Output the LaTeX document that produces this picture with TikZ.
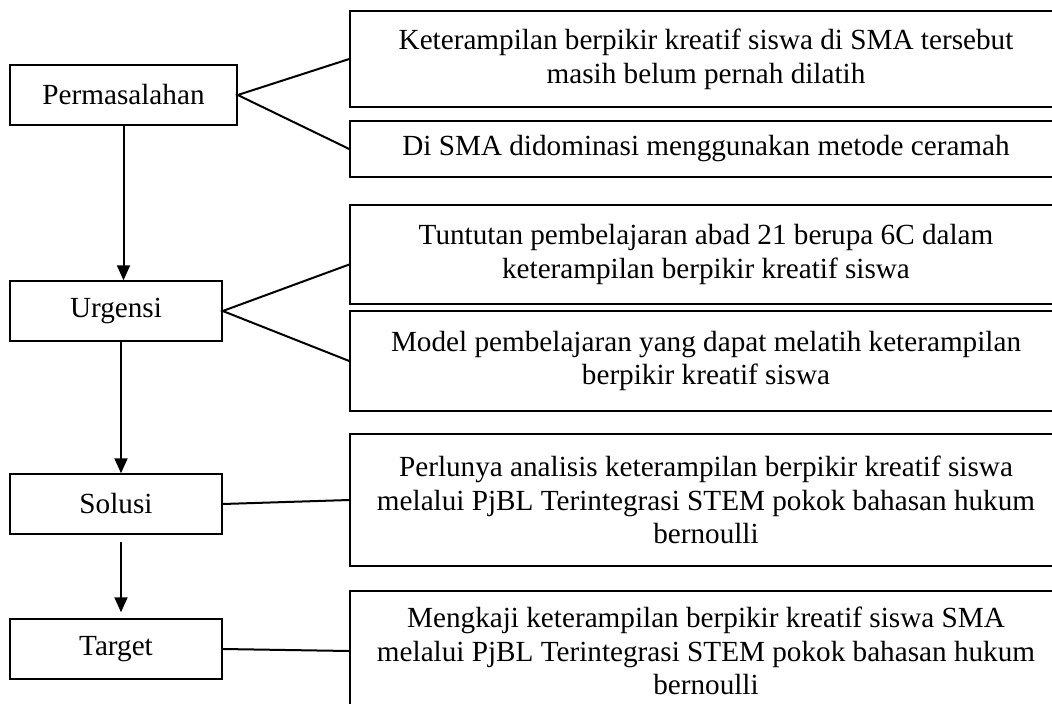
\documentclass[tikz,border=0pt]{standalone}
\usepackage{fontspec}
\setmainfont{Liberation Serif}
\usetikzlibrary{arrows.meta}

\begin{document}
\begin{tikzpicture}[x=1pt, y=-1pt,
		lbox/.style={draw, line width=1.5pt, minimum width=212pt, minimum height=60pt, font=\fontsize{29.2}{33.7}\selectfont},
		rbox/.style={draw, line width=1.5pt, minimum width=712pt, align=center, font=\fontsize{29.2}{33.7}\selectfont},
		link/.style={line width=2pt},
		arr/.style={line width=2pt, -{Triangle[width=13pt, length=15pt]}}]
		%%%%% START %%%%%
		
		\clip (0, 0) rectangle (1052, 704);
		
		\node[lbox, minimum width=227pt] (perm) at (123.5, 95) {Permasalahan};
		\node[lbox] (urg) at (116, 311) {Urgensi};
		\node[lbox] (sol) at (116, 504) {Solusi};
		\node[lbox] (tgt) at (116, 649) {Target};
		
		\node[rbox, minimum height=96pt] (p1) at (706, 59) {Keterampilan berpikir kreatif siswa di SMA tersebut\\ masih belum pernah dilatih};
		\node[rbox, minimum height=56pt] (p2) at (706, 149) {Di SMA didominasi menggunakan metode ceramah};
		
		\node[rbox, minimum height=99pt] (u1) at (706, 254.5) {Tuntutan pembelajaran abad 21 berupa 6C dalam\\ keterampilan berpikir kreatif siswa};
		\node[rbox, minimum height=100pt] (u2) at (706, 361) {Model pembelajaran yang dapat melatih keterampilan\\ berpikir kreatif siswa};
		
		\node[rbox, minimum height=132pt] (s1) at (706, 500) {Perlunya analisis keterampilan berpikir kreatif siswa\\ melalui PjBL Terintegrasi STEM pokok bahasan hukum\\ bernoulli};
		\node[rbox, minimum height=120pt] (t1) at (706, 651) {Mengkaji keterampilan berpikir kreatif siswa SMA\\ melalui PjBL Terintegrasi STEM pokok bahasan hukum\\ bernoulli};
		
		\draw[link] (p1.west) -- (perm.east) -- (p2.west);
		\draw[link] ([yshift=-10pt]u1.west) -- (urg.east) -- (u2.west);
		\draw[link] (sol.east) -- (s1.west);
		\draw[link] (tgt.east) -- (t1.west);
		
		\draw[arr] (perm.south) -- (perm.south |- urg.north);
		\draw[arr] ([xshift=5pt]urg.south) -- ([xshift=5pt]urg.south |- sol.north);
		\draw[arr, shorten <=7pt, shorten >=6pt] ([xshift=5pt]sol.south) -- ([xshift=5pt]sol.south |- tgt.north);
		
		%%%%% END %%%%%
	\end{tikzpicture}
\end{document}
